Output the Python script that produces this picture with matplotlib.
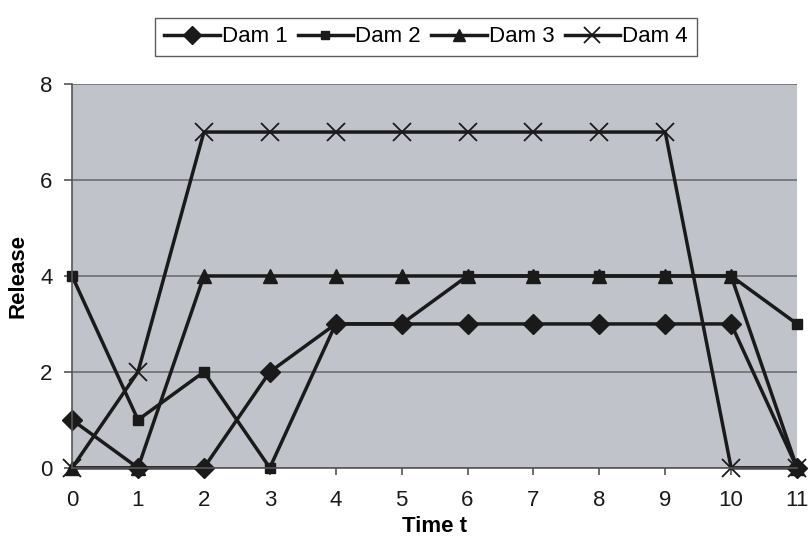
import matplotlib.pyplot as plt
import numpy as np

plt.rcParams['font.family'] = ['Liberation Sans', 'DejaVu Sans']

t = np.arange(12)
dam1 = [1, 0, 0, 2, 3, 3, 3, 3, 3, 3, 3, 0]
dam2 = [4, 1, 2, 0, 3, 3, 4, 4, 4, 4, 4, 3]
dam3 = [0, 0, 4, 4, 4, 4, 4, 4, 4, 4, 4, 0]
dam4 = [0, 2, 7, 7, 7, 7, 7, 7, 7, 7, 0, 0]
labels = ["Dam 1", "Dam 2", "Dam 3", "Dam 4"]

fig = plt.figure(figsize=(8.1, 5.39), dpi=100)
ax = fig.add_axes([0.089, 0.132, 0.895, 0.712])
ax.set_facecolor("#c0c3ca")

kw = dict(color="#1a1a1a", linewidth=2.5, clip_on=False)
ax.plot(t, dam1, marker="D", markersize=10, label=labels[0], **kw)
ax.plot(t, dam2, marker="s", markersize=7, label=labels[1], **kw)
ax.plot(t, dam3, marker="^", markersize=10, label=labels[2], **kw)
ax.plot(t, dam4, marker="x", markersize=13, markeredgewidth=1.3, label=labels[3], **kw)

ax.set_xlim(0, 11)
ax.set_ylim(0, 8)
ax.set_xticks(t)
ax.set_yticks([0, 2, 4, 6, 8])
ax.yaxis.grid(True, color="#6e6e6e", linewidth=1.2)
ax.set_axisbelow(True)
for s in ["top", "right"]:
    ax.spines[s].set_visible(False)
for s in ["left", "bottom"]:
    ax.spines[s].set_color("#555555")
    ax.spines[s].set_linewidth(1.2)
ax.tick_params(axis="both", labelsize=16, color="#555555", width=1.2, labelcolor="#1a1a1a")
ax.tick_params(axis="x", length=5, pad=11)
ax.tick_params(axis="y", length=6, pad=8)

ax.set_xlabel("Time t", fontsize=16, fontweight="bold", va="center")
ax.xaxis.set_label_coords(0.5, -0.154)
ax.set_ylabel("Release", fontsize=16, fontweight="bold", va="center")
ax.yaxis.set_label_coords(-0.0745, 0.5)

leg = fig.legend(loc="upper center", bbox_to_anchor=(0.526, 0.988), ncol=4,
                 fontsize=16, frameon=True, fancybox=False, handlelength=2.5,
                 handletextpad=0.1, columnspacing=0.45, borderpad=0.4,
                 markerscale=0.9)
leg.get_frame().set_edgecolor("#333333")
leg.get_frame().set_linewidth(1.0)

fig.savefig("out.png", dpi=100)
